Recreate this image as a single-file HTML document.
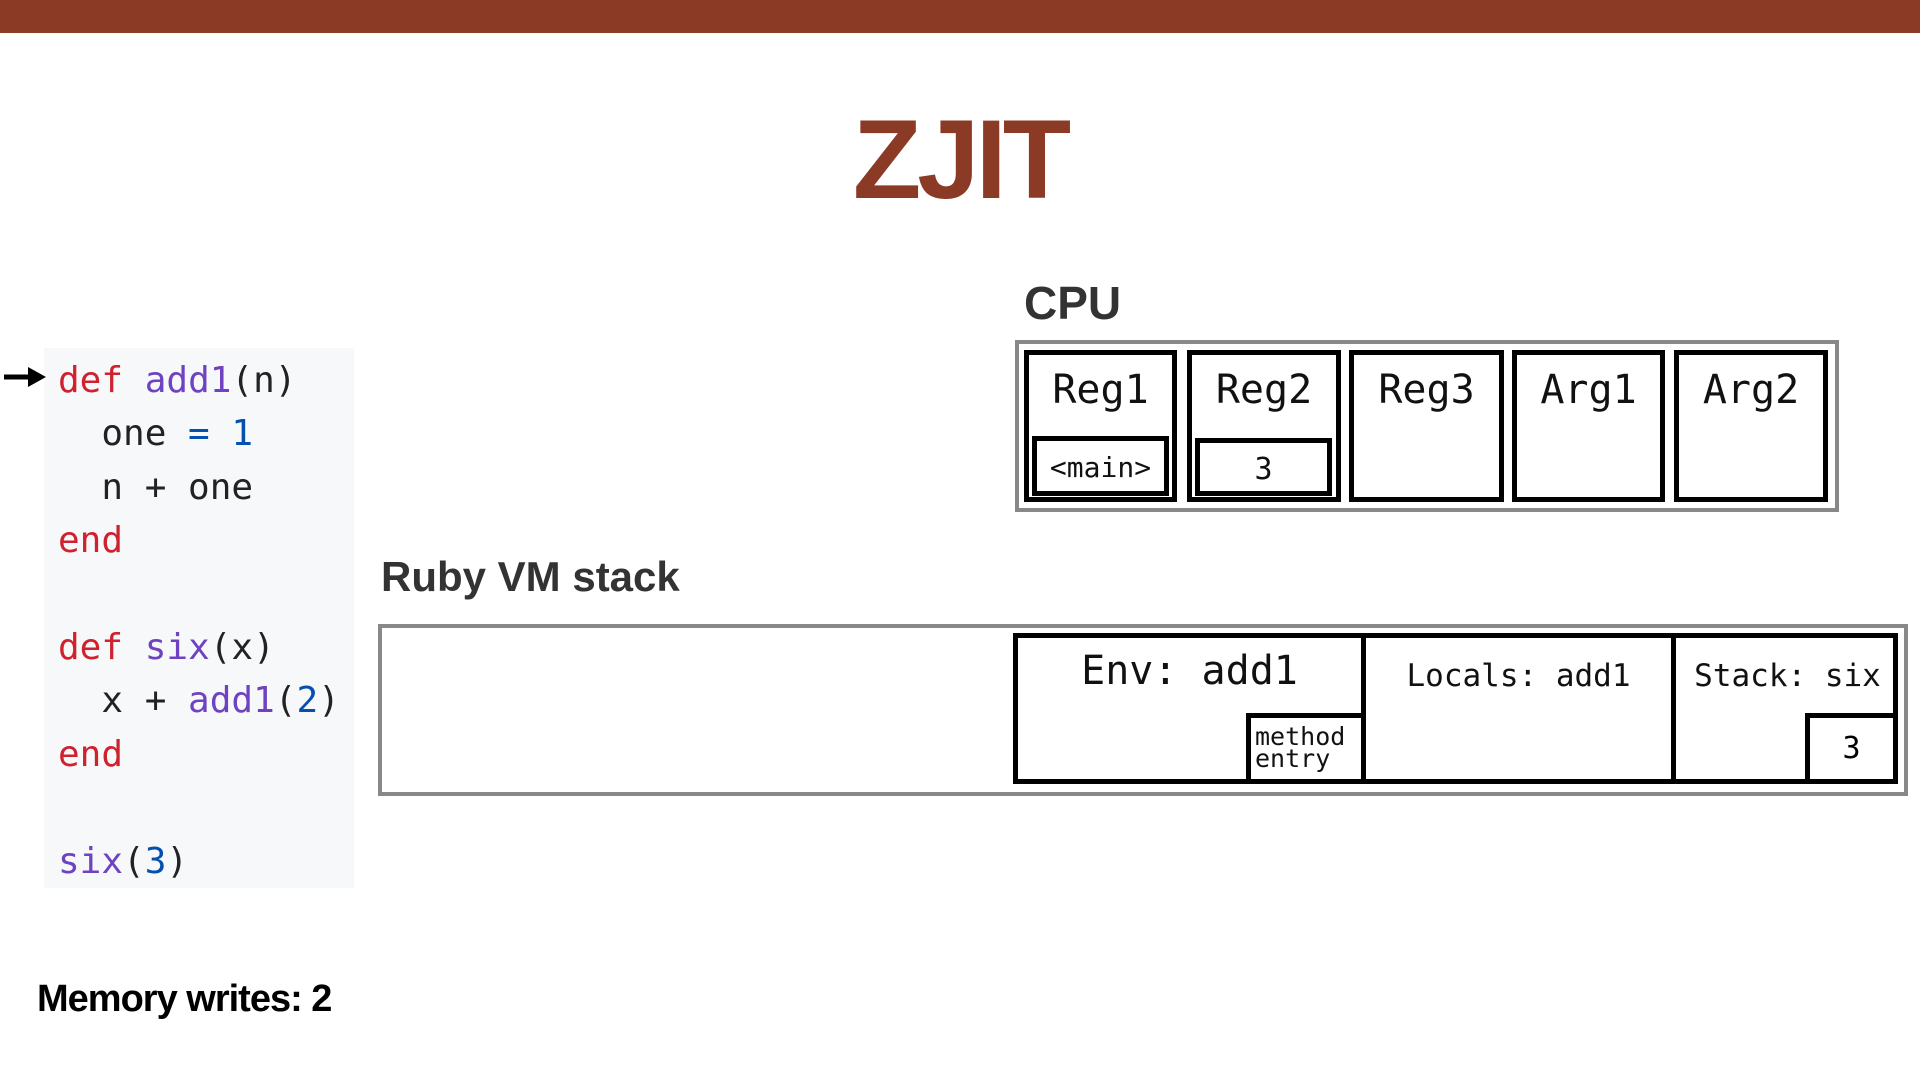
<!DOCTYPE html>
<html><head><meta charset="utf-8"><style>
*{margin:0;padding:0;box-sizing:border-box}
body{width:1920px;height:1080px;background:#fff;position:relative;overflow:hidden;font-family:"Liberation Sans",sans-serif}
.a{position:absolute}
.bar{left:0;top:0;width:1920px;height:33px;background:#8b3a26}
.title{left:0;width:1920px;top:95px;text-align:center;font-size:112px;font-weight:bold;color:#8b3a26;letter-spacing:-4px}
.h{font-weight:bold;color:#333}
.gray{border:4px solid #888}
.cell{border:5px solid #000;text-align:center;font-family:"DejaVu Sans Mono",monospace;font-size:40px;color:#111;padding-top:12px}
.mono{font-family:"DejaVu Sans Mono",monospace;color:#111}
.code{left:44px;top:348px;width:310px;height:540px;background:#f6f8fa}
.code pre{position:absolute;left:14px;top:6px;font-family:"DejaVu Sans Mono",monospace;font-size:36px;line-height:53.4px;color:#222}
.r{color:#cf222e}.p{color:#6f42c1}.b{color:#0550ae}
</style></head><body>
<div class="a bar"></div>
<div class="a title">ZJIT</div>

<div class="a code"><pre><span class="r">def</span> <span class="p">add1</span>(n)
  one <span class="b">=</span> <span class="b">1</span>
  n + one
<span class="r">end</span>

<span class="r">def</span> <span class="p">six</span>(x)
  x + <span class="p">add1</span>(<span class="b">2</span>)
<span class="r">end</span>

<span class="p">six</span>(<span class="b">3</span>)</pre></div>
<svg class="a" style="left:2px;top:364px" width="46" height="26"><line x1="2" y1="13" x2="28" y2="13" stroke="#000" stroke-width="5"/><polygon points="26,3 44,13 26,23" fill="#000"/></svg>

<div class="a h" style="left:1024px;top:276px;font-size:46px">CPU</div>
<div class="a gray" style="left:1015px;top:340px;width:824px;height:172px"></div>
<div class="a cell" style="left:1024px;top:350px;width:153px;height:152px">Reg1</div>
<div class="a cell" style="left:1187px;top:350px;width:154px;height:152px">Reg2</div>
<div class="a cell" style="left:1349px;top:350px;width:155px;height:152px">Reg3</div>
<div class="a cell" style="left:1512px;top:350px;width:153px;height:152px">Arg1</div>
<div class="a cell" style="left:1674px;top:350px;width:154px;height:152px">Arg2</div>
<div class="a cell" style="left:1032px;top:436px;width:137px;height:60px;font-size:28px;padding-top:10px">&lt;main&gt;</div>
<div class="a cell" style="left:1195px;top:438px;width:137px;height:58px;font-size:30px;padding-top:9px">3</div>

<div class="a h" style="left:381px;top:553px;font-size:42px">Ruby VM stack</div>
<div class="a gray" style="left:378px;top:624px;width:1530px;height:172px"></div>
<div class="a" style="left:1013px;top:633px;width:885px;height:151px;border:5px solid #000"></div>
<div class="a" style="left:1361px;top:633px;width:5px;height:151px;background:#000"></div>
<div class="a" style="left:1671px;top:633px;width:5px;height:151px;background:#000"></div>
<div class="a mono" style="left:1018px;top:648px;width:343px;text-align:center;font-size:40px">Env: add1</div>
<div class="a mono" style="left:1366px;top:658px;width:305px;text-align:center;font-size:31px">Locals: add1</div>
<div class="a mono" style="left:1680px;top:658px;width:215px;text-align:center;font-size:31px">Stack: six</div>
<div class="a" style="left:1246px;top:713px;width:120px;height:71px;border:5px solid #000;border-bottom:none"></div>
<div class="a mono" style="left:1255px;top:726px;font-size:25px;line-height:22px">method<br>entry</div>
<div class="a" style="left:1805px;top:713px;width:93px;height:71px;border:5px solid #000;text-align:center;font-family:'DejaVu Sans Mono',monospace;font-size:30px;padding-top:13px">3</div>

<div class="a" style="left:37px;top:978px;font-size:38px;font-weight:bold;color:#000;letter-spacing:-1px">Memory writes: 2</div>
</body></html>
